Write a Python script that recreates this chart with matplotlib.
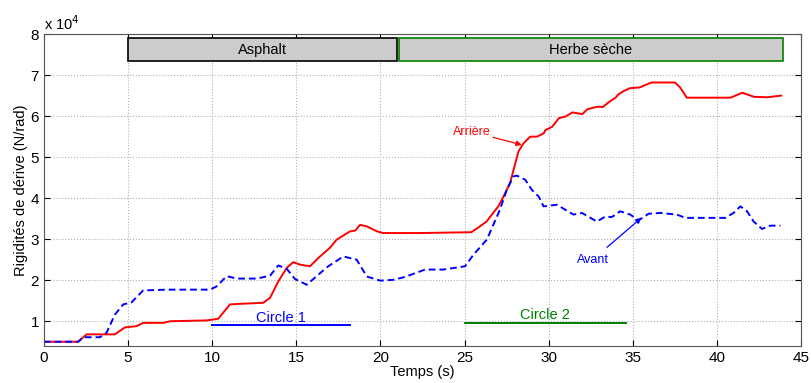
import numpy as np
import matplotlib.pyplot as plt
from matplotlib.patches import Rectangle

plt.rcParams['font.family'] = ['Liberation Sans', 'DejaVu Sans']

# cornering stiffness estimates (units of 1e4 N/rad)
t_rear = [0, 2.04, 2.54, 4.22, 4.82, 5.51, 5.9, 7.1, 7.49, 9.67, 10.36, 11.06, 11.46,
          13.04, 13.44, 13.93, 14.43, 14.82, 15.22, 15.81, 16.41, 17.0, 17.4, 18.19,
          18.5, 18.79, 19.2, 19.8, 20.17, 22.35, 25.4, 25.9, 26.3, 27.0, 27.31, 27.7,
          28.2, 28.5, 28.9, 29.3, 29.7, 29.8, 30.2, 30.6, 31.0, 31.4, 32.0, 32.3, 32.9,
          33.2, 33.6, 34.0, 34.1, 34.4, 34.8, 35.4, 36.1, 37.5, 37.8, 38.2, 40.8, 41.5,
          42.2, 43.0, 43.8]
k_rear = [0.5, 0.5, 0.68, 0.68, 0.85, 0.88, 0.96, 0.96, 1.0, 1.02, 1.06, 1.41, 1.42,
          1.45, 1.57, 1.97, 2.3, 2.44, 2.38, 2.34, 2.58, 2.79, 2.99, 3.19,
          3.21, 3.35, 3.31, 3.19, 3.15, 3.15, 3.17, 3.31, 3.43, 3.8, 4.04, 4.37,
          5.14, 5.34, 5.5, 5.5, 5.58, 5.66, 5.74, 5.95, 5.99, 6.09, 6.05, 6.17, 6.23,
          6.22, 6.35, 6.46, 6.52, 6.6, 6.68, 6.7, 6.82, 6.82, 6.7, 6.45, 6.45, 6.57,
          6.47, 6.46, 6.5]

t_front = [0, 2.04, 2.34, 3.33, 3.73, 4.22, 4.72, 5.21, 5.9, 7.29, 9.87, 10.27, 10.86,
           11.46, 12.65, 13.44, 13.93, 14.43, 14.92, 15.62, 16.21, 16.9, 17.8, 18.59,
           19.19, 19.98, 20.77, 21.46, 22.65, 23.74, 25.03, 25.52, 26.32, 27.1, 27.5,
           27.9, 28.1, 28.6, 29.0, 29.4, 29.69, 30.48, 31.47, 31.97, 32.86, 33.35,
           33.75, 34.24, 34.84, 35.33, 35.93, 36.62, 37.61, 38.11, 40.49, 40.98, 41.38,
           41.78, 42.17, 42.67, 43.16, 43.76]
k_front = [0.5, 0.5, 0.61, 0.61, 0.72, 1.16, 1.41, 1.46, 1.75, 1.77, 1.77, 1.85, 2.1,
           2.04, 2.04, 2.11, 2.36, 2.28, 2.03, 1.89, 2.1, 2.34, 2.58, 2.5,
           2.09, 1.99, 2.01, 2.08, 2.26, 2.26, 2.34, 2.62, 2.99, 3.72, 4.2,
           4.53, 4.55, 4.45, 4.2, 4.04, 3.8, 3.84, 3.6, 3.64, 3.43, 3.55,
           3.54, 3.68, 3.6, 3.46, 3.62, 3.64, 3.6, 3.52, 3.52, 3.64, 3.8,
           3.68, 3.43, 3.25, 3.33, 3.33]

# surface segments (start, end) and circle manoeuvres (start, end, level)
surfaces = [('Asphalt', 5.0, 21.0, 'black'), ('Herbe sèche', 21.1, 43.9, 'green')]
circles = [('Circle 1', 10.0, 18.2, 0.9, 'blue'), ('Circle 2', 25.0, 34.6, 0.95, 'green')]

fig = plt.figure(figsize=(8.11, 3.83), dpi=100)
ax = fig.add_axes([0.054, 0.097, 0.934, 0.814])

ax.plot(t_rear, k_rear, color='red', lw=1.4)
ax.plot(t_front, k_front, color='blue', lw=1.4, ls=(0, (3.5, 2)))

for name, a, b, ec in surfaces:
    ax.add_patch(Rectangle((a, 7.35), b - a, 0.55, facecolor='#cccccc',
                           edgecolor=ec, lw=1.2, zorder=3))
    ax.text((a + b) / 2, 7.62, name, ha='center', va='center', fontsize=10.5, zorder=4)

for name, a, b, lvl, c in circles:
    ax.plot([a, b], [lvl, lvl], color=c, lw=1.4)
    ax.text((a + b) / 2, lvl + 0.02, name, ha='center', va='bottom', color=c, fontsize=10.5)

ax.annotate('Arrière', xy=(28.4, 5.3), xytext=(25.4, 5.62), color='red', fontsize=9,
            ha='center', va='center',
            arrowprops=dict(arrowstyle='-|>', color='red', lw=0.9, mutation_scale=8,
                            shrinkA=0, shrinkB=0))
ax.annotate('Avant', xy=(35.5, 3.52), xytext=(32.6, 2.5), color='blue', fontsize=9,
            ha='center', va='center',
            arrowprops=dict(arrowstyle='-|>', color='blue', lw=0.9, mutation_scale=8,
                            shrinkA=4, shrinkB=0))

ax.set_xlim(0, 45)
ax.set_ylim(0.4, 8)
ax.set_xticks(np.arange(0, 46, 5))
ax.set_yticks(np.arange(1, 9, 1))
ax.grid(True, color='#b0b0b0', ls=':', lw=0.8)
ax.tick_params(direction='in', top=True, right=True, labelsize=11, length=4)
for s in ax.spines.values():
    s.set_color('#555555')
ax.set_xlabel('Temps (s)', fontsize=10.5, labelpad=0)
ax.set_ylabel('Rigidités de dérive (N/rad)', fontsize=10.5, labelpad=2)
ax.text(0.0, 1.005, r'x 10$^4$', transform=ax.transAxes, fontsize=10.5, va='bottom')

fig.savefig('out.png', dpi=100)
